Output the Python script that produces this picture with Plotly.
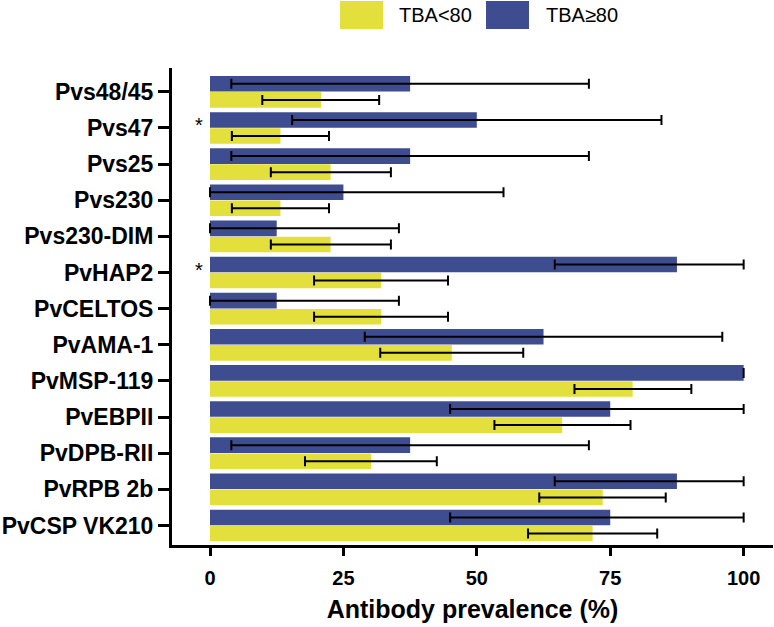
import plotly.graph_objects as go

# Categories, top to bottom as displayed
categories = ["Pvs48/45", "Pvs47", "Pvs25", "Pvs230", "Pvs230-DIM", "PvHAP2",
              "PvCELTOS", "PvAMA-1", "PvMSP-119", "PvEBPII", "PvDPB-RII",
              "PvRPB 2b", "PvCSP VK210"]

# TBA<80 group (prevalence %, 95% CI)
low_val = [20.8, 13.2, 22.6, 13.2, 22.6, 32.1, 32.1, 45.3, 79.2, 66.0, 30.2, 73.6, 71.7]
low_lo  = [9.8, 4.1, 11.4, 4.1, 11.4, 19.5, 19.5, 31.9, 68.3, 53.3, 17.8, 61.7, 59.6]
low_hi  = [31.7, 22.3, 33.9, 22.3, 33.9, 44.6, 44.6, 58.7, 90.2, 78.8, 42.5, 85.4, 83.8]

# TBA>=80 group (prevalence %, 95% CI)
high_val = [37.5, 50.0, 37.5, 25.0, 12.5, 87.5, 12.5, 62.5, 100.0, 75.0, 37.5, 87.5, 75.0]
high_lo  = [4.0, 15.4, 4.0, 0.0, 0.0, 64.6, 0.0, 29.0, 100.0, 45.0, 4.0, 64.6, 45.0]
high_hi  = [71.0, 84.6, 71.0, 55.0, 35.4, 100.0, 35.4, 96.0, 100.0, 100.0, 71.0, 100.0, 100.0]

# significance markers
star_cats = ["Pvs47", "PvHAP2"]

YELLOW = "#E3DF3C"
BLUE = "#3E4C90"
FONT = "Liberation Sans, Arial, Helvetica, sans-serif"

err_style = dict(type="data", symmetric=False, color="black", thickness=2, width=5)

fig = go.Figure()
fig.add_trace(go.Bar(
    y=categories, x=low_val, orientation="h", name="TBA<80",
    marker=dict(color=YELLOW, line=dict(width=0)),
    error_x=dict(array=[h - v for h, v in zip(low_hi, low_val)],
                 arrayminus=[v - l for v, l in zip(low_val, low_lo)], **err_style),
))
fig.add_trace(go.Bar(
    y=categories, x=high_val, orientation="h", name="TBA≥80",
    marker=dict(color=BLUE, line=dict(width=0)),
    error_x=dict(array=[h - v for h, v in zip(high_hi, high_val)],
                 arrayminus=[v - l for v, l in zip(high_val, high_lo)], **err_style),
))

for c in star_cats:
    fig.add_annotation(x=-2.1, y=c, xref="x", yref="y", text="*", showarrow=False,
                       yshift=3, font=dict(family=FONT, size=20, color="black"))

# legend drawn at top
fig.add_shape(type="rect", xref="paper", yref="paper", x0=0.2795, x1=0.3511,
              y0=1.0818, y1=1.1405, fillcolor=YELLOW, line=dict(width=0))
fig.add_annotation(xref="paper", yref="paper", x=0.3744, y=1.111, xanchor="left",
                   yanchor="middle", text="TBA<80", showarrow=False,
                   font=dict(family=FONT, size=20, color="black"))
fig.add_shape(type="rect", xref="paper", yref="paper", x0=0.5225, x1=0.594,
              y0=1.0818, y1=1.1405, fillcolor=BLUE, line=dict(width=0))
fig.add_annotation(xref="paper", yref="paper", x=0.619, y=1.111, xanchor="left",
                   yanchor="middle", text="TBA≥80", showarrow=False,
                   font=dict(family=FONT, size=20, color="black"))

fig.update_layout(
    width=774, height=627,
    margin=dict(l=172, r=1, t=68, b=82, autoexpand=False),
    paper_bgcolor="white", plot_bgcolor="white",
    barmode="group", bargap=0.11, bargroupgap=0.03,
    showlegend=False,
    font=dict(family=FONT, color="black"),
)
fig.update_xaxes(
    range=[-7.12, 105.5], tickvals=[0, 25, 50, 75, 100],
    automargin=False,
    showgrid=False, zeroline=False,
    showline=True, linecolor="black", linewidth=3,
    ticks="outside", ticklen=8, tickwidth=3, tickcolor="black",
    tickfont=dict(family=FONT, size=20, weight="bold"),
    ticklabelstandoff=5,
    title=dict(text="Antibody prevalence (%)", standoff=13,
               font=dict(family=FONT, size=25, weight="bold")),
)
fig.update_yaxes(
    type="category", categoryorder="array", categoryarray=categories[::-1],
    range=[-0.54, 12.66], automargin=False,
    showgrid=False, zeroline=False,
    showline=True, linecolor="black", linewidth=3,
    ticks="outside", ticklen=11, tickwidth=3, tickcolor="black",
    tickfont=dict(family=FONT, size=23, weight="bold"),
    ticklabelstandoff=0,
)

fig.write_html("out.html", config={"displayModeBar": False},
               post_script="document.body.style.margin='0';")
